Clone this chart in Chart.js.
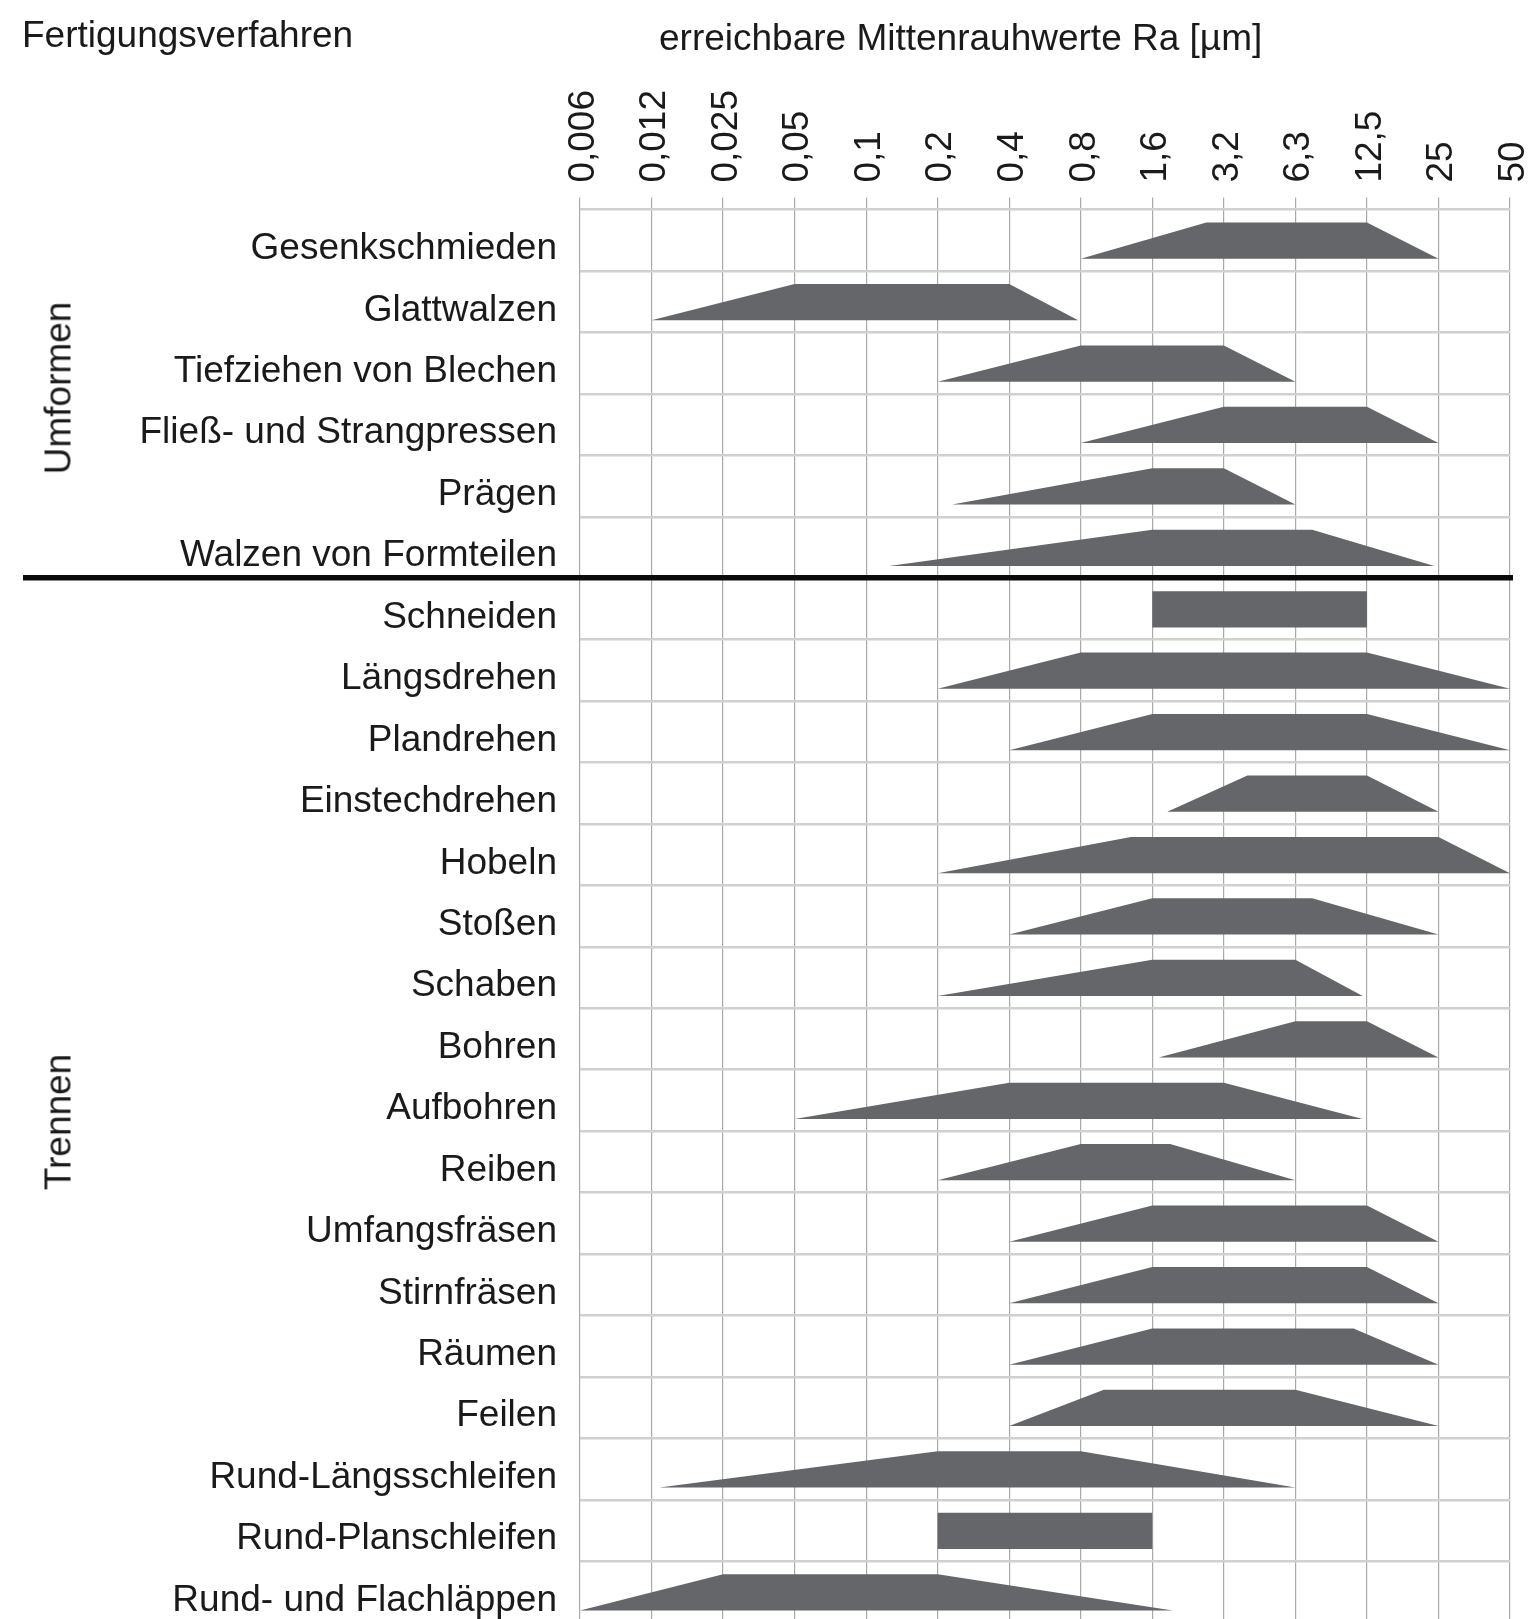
<!DOCTYPE html>
<html lang="de">
<head>
<meta charset="utf-8">
<title>Fertigungsverfahren – erreichbare Mittenrauhwerte</title>
<script src="https://cdn.jsdelivr.net/npm/chart.js@4.4.1/dist/chart.umd.min.js"></script>
<style>
  html, body { margin: 0; padding: 0; background: #fff; overflow: hidden; }
  #wrap { position: relative; width: 1532px; height: 1619px; font-family: 'Liberation Sans', Arial, sans-serif; color: #1a1a1a; }
  #wrap canvas { position: absolute; left: 0; top: 0; }
  .label { position: absolute; font-size: 37px; line-height: 37px; white-space: nowrap; }
  .group { transform: translate(-50%, -50%) rotate(-90deg); }
</style>
</head>
<body>
<div id="wrap">
  <canvas id="chart" width="1532" height="1619"></canvas>
  <div class="label" style="left:22px;top:16px">Fertigungsverfahren</div>
  <div class="label" style="left:659px;top:19px">erreichbare Mittenrauhwerte Ra [µm]</div>
  <div class="label group" style="left:58px;top:388px">Umformen</div>
  <div class="label group" style="left:58px;top:1122px">Trennen</div>
</div>
<script>
// Ra tick labels, one per grid column (each step roughly doubles the value)
const tickLabels = ['0,006', '0,012', '0,025', '0,05', '0,1', '0,2', '0,4', '0,8', '1,6', '3,2', '6,3', '12,5', '25', '50'];

const processes = [
  'Gesenkschmieden', 'Glattwalzen', 'Tiefziehen von Blechen', 'Fließ- und Strangpressen', 'Prägen',
  'Walzen von Formteilen', 'Schneiden', 'Längsdrehen', 'Plandrehen', 'Einstechdrehen', 'Hobeln',
  'Stoßen', 'Schaben', 'Bohren', 'Aufbohren', 'Reiben', 'Umfangsfräsen', 'Stirnfräsen', 'Räumen',
  'Feilen', 'Rund-Längsschleifen', 'Rund-Planschleifen', 'Rund- und Flachläppen'
];

// Ra values [µm] of each trapezoid: lower edge start, upper edge start, upper edge end, lower edge end
const lowerStart = [0.8, 0.012, 0.2, 0.8, 0.23, 0.125, 1.6, 0.2, 0.4, 1.85, 0.2, 0.4, 0.2, 1.7, 0.05, 0.2, 0.4, 0.4, 0.4, 0.4, 0.013, 0.2, 0.006];
const upperStart = [2.7, 0.05, 0.8, 3.2, 1.6, 1.6, 1.6, 0.8, 1.6, 4, 1.3, 1.6, 1.6, 6.3, 0.4, 0.8, 1.6, 1.6, 1.6, 1.0, 0.2, 0.2, 0.025];
const upperEnd = [12.5, 0.4, 3.2, 12.5, 3.2, 7.4, 12.5, 12.5, 12.5, 12.5, 25, 7.4, 6.3, 12.5, 3.2, 1.9, 12.5, 12.5, 11, 6.3, 0.8, 1.6, 0.2];
const lowerEnd = [25, 0.78, 6.3, 25, 6.3, 24, 12.5, 50, 50, 25, 50, 25, 12, 25, 12, 6.3, 25, 25, 25, 25, 6.3, 1.6, 1.95];

// first 6 rows are "Umformen", the rest "Trennen"
const umformenRows = 6;

const tickValues = tickLabels.map(t => parseFloat(t.replace(',', '.')));

const SHAPE_COLOR = '#656669';
const TEXT_COLOR = '#1a1a1a';
const FONT = { family: "'Liberation Sans', Arial, sans-serif", size: 37 };
const ROW_TOP = 0.21;
const ROW_BOTTOM = 0.8;
const LABEL_POS = 0.64;

/**
 * Ra value -> position on the column axis (log interpolation between ticks)
 */
function toStep(ra) {
  const last = tickValues.length - 2;
  for (let i = 0; i <= last; i++) {
    const lo = tickValues[i];
    const hi = tickValues[i + 1];
    if (ra <= hi || i === last) {
      return i + Math.log(ra / lo) / Math.log(hi / lo);
    }
  }
}

const datasets = processes.map((name, i) => ({
  label: name,
  data: [
    { x: toStep(lowerStart[i]), y: i + ROW_BOTTOM },
    { x: toStep(upperStart[i]), y: i + ROW_TOP },
    { x: toStep(upperEnd[i]), y: i + ROW_TOP },
    { x: toStep(lowerEnd[i]), y: i + ROW_BOTTOM }
  ],
  fill: 'shape',
  backgroundColor: SHAPE_COLOR,
  borderColor: 'rgba(0,0,0,0)',
  borderWidth: 0,
  pointRadius: 0,
  tension: 0
}));

// thick rule between the two groups
const separator = {
  id: 'separator',
  afterDatasetsDraw(chart) {
    const { ctx, chartArea, scales } = chart;
    const y = scales.y.getPixelForValue(umformenRows) - 0.5;
    ctx.save();
    ctx.strokeStyle = '#0b0b0b';
    ctx.lineWidth = 5.5;
    ctx.beginPath();
    ctx.moveTo(23, y);
    ctx.lineTo(chartArea.right + 3, y);
    ctx.stroke();
    ctx.restore();
  }
};

new Chart(document.getElementById('chart'), {
  type: 'line',
  data: { datasets },
  options: {
    responsive: false,
    animation: false,
    devicePixelRatio: 1,
    events: [],
    layout: { padding: { left: 0, top: 0, right: 22, bottom: 0 } },
    plugins: { legend: { display: false }, tooltip: { enabled: false } },
    scales: {
      x: {
        type: 'linear',
        position: 'top',
        min: 0,
        max: tickLabels.length - 1,
        afterBuildTicks: axis => { axis.ticks = tickLabels.map((_, i) => ({ value: i })); },
        afterFit: axis => { axis.height = 209.6; axis.paddingLeft = 0; axis.paddingRight = 0; },
        ticks: {
          minRotation: 90,
          maxRotation: 90,
          autoSkip: false,
          padding: 15,
          labelOffset: 48,
          font: FONT,
          color: TEXT_COLOR,
          callback: v => tickLabels[v]
        },
        grid: { color: '#a9a9a9', lineWidth: 1.2, tickLength: 12 },
        border: { display: false }
      },
      y: {
        type: 'linear',
        reverse: true,
        min: 0,
        max: 22.94,
        afterBuildTicks: axis => {
          const ticks = [];
          processes.forEach((_, i) => {
            ticks.push({ value: i });
            ticks.push({ value: i + LABEL_POS });
          });
          axis.ticks = ticks;
        },
        afterFit: axis => { axis.width = 580; axis.paddingTop = 0; axis.paddingBottom = 0; },
        ticks: {
          autoSkip: false,
          padding: 23,
          font: FONT,
          color: TEXT_COLOR,
          callback: v => Number.isInteger(v) ? '' : processes[Math.floor(v)]
        },
        grid: {
          color: ctx => Number.isInteger(ctx.tick.value) ? '#d0d0d0' : 'rgba(0,0,0,0)',
          lineWidth: 2.5,
          drawTicks: false
        },
        border: { display: false }
      }
    }
  },
  plugins: [separator]
});
</script>
</body>
</html>
